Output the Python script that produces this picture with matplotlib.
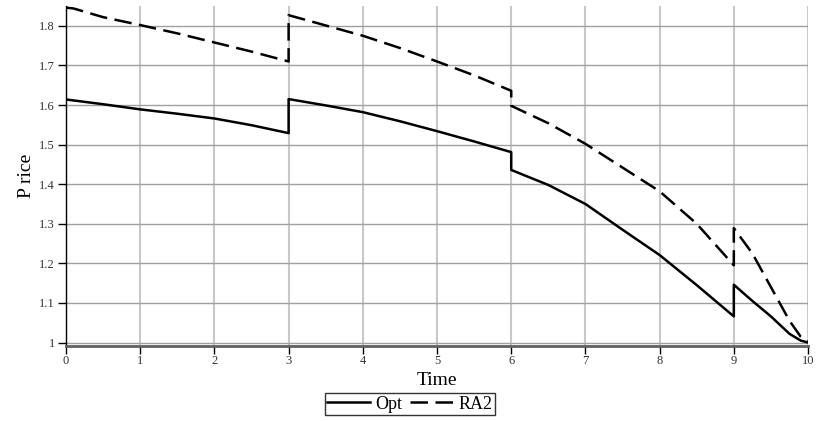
import numpy as np
import matplotlib.pyplot as plt

# data
t_opt = [0, 0.5, 1, 1.5, 2, 2.5, 3, 3, 3.5, 4, 4.5, 5, 5.5, 6, 6, 6.5, 7, 7.5, 8, 8.5, 9, 9, 9.25, 9.5, 9.75, 9.9, 10]
p_opt = [1.614, 1.602, 1.589, 1.578, 1.566, 1.549, 1.529, 1.615, 1.599, 1.582, 1.559, 1.534, 1.508, 1.481, 1.436, 1.398, 1.350, 1.285, 1.221, 1.145, 1.066, 1.146, 1.105, 1.066, 1.022, 1.005, 1.0]

t_ra2 = [0, 0.1, 0.5, 1, 1.5, 2, 2.5, 3, 3, 3.5, 4, 4.5, 5, 5.5, 6, 6, 6.5, 7, 7.5, 8, 8.5, 9, 9, 9.25, 9.5, 9.75, 9.9, 10]
p_ra2 = [1.846, 1.844, 1.822, 1.802, 1.781, 1.758, 1.735, 1.710, 1.827, 1.801, 1.775, 1.744, 1.710, 1.675, 1.636, 1.598, 1.554, 1.502, 1.442, 1.382, 1.300, 1.195, 1.289, 1.225, 1.140, 1.055, 1.015, 1.003]

xticks = np.arange(0, 11, 1)
yticks = np.round(np.arange(1.0, 1.81, 0.1), 1)

plt.rcParams['font.family'] = ['Liberation Serif', 'DejaVu Serif']

fig = plt.figure(figsize=(8.18, 4.21), dpi=100)
ax = fig.add_axes([0.0807, 0.1789, 0.9071, 0.8067])

for x in xticks:
    ax.axvline(x, color='#c8c8c8', lw=1.5, zorder=0)
for y in yticks:
    ax.axhline(y, color='#a0a0a0', lw=1.0, zorder=0)

ax.plot(t_opt, p_opt, color='black', lw=1.8, label='Opt')
ax.plot(t_ra2, p_ra2, color='black', lw=1.8, dashes=(7, 3), label='RA2')

ax.set_xlim(0, 10)
ax.set_ylim(0.992, 1.85)
ax.set_xticks(xticks)
ax.set_xticklabels([str(x) for x in xticks])
ax.set_yticks(yticks)
ax.set_yticklabels(['1' if y == 1.0 else '%.1f' % y for y in yticks])
ax.tick_params(axis='both', labelsize=9, colors='black', labelcolor='#333333', length=6, width=1)
ax.tick_params(axis='x', pad=0.5)
ax.tick_params(axis='y', pad=2)

for s in ['top', 'right']:
    ax.spines[s].set_visible(False)
ax.spines['left'].set_color('black')
ax.spines['left'].set_linewidth(1.0)
ax.spines['bottom'].set_color('#606060')
ax.spines['bottom'].set_linewidth(2.0)

ax.set_xlabel('Time', fontsize=14, labelpad=4)
ax.set_ylabel('P rice', fontsize=14, labelpad=3)

leg = fig.legend(loc='center', bbox_to_anchor=(0.501, 0.04), ncol=2, fontsize=13,
                 frameon=True, fancybox=False, handlelength=2.4, handletextpad=0.3,
                 columnspacing=0.4, borderpad=0.12, borderaxespad=0)
leg.get_frame().set_edgecolor('black')
leg.get_frame().set_linewidth(1.0)

fig.savefig('out.png', dpi=100)
